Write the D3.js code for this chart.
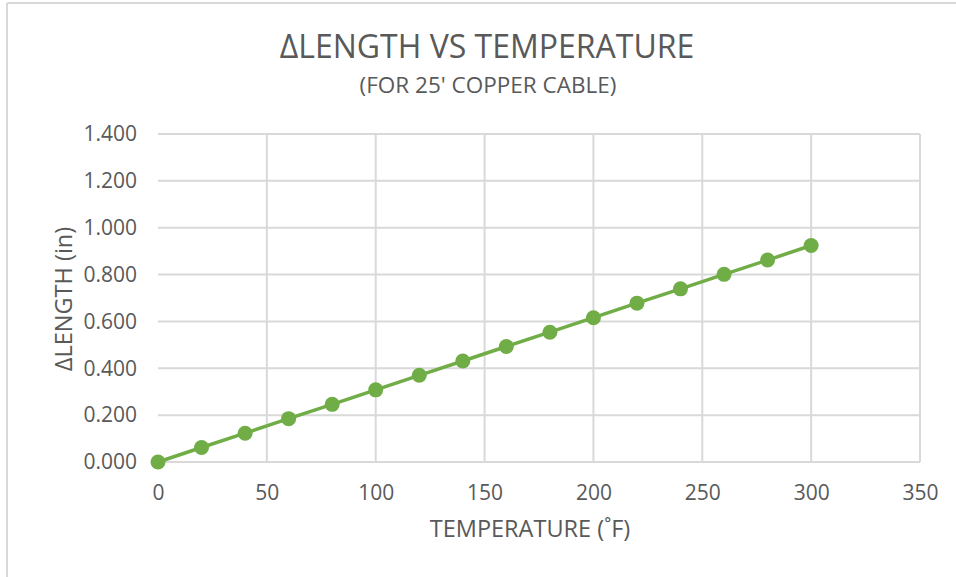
<!DOCTYPE html>
<html lang="en">
<head>
  <meta charset="UTF-8">
  <title>ΔLength vs Temperature</title>
  <script src="https://d3js.org/d3.v7.min.js"></script>
  <style>
    body { margin: 0; background: #fff; }
    text { font-family: "Open Sans", "Liberation Sans", sans-serif; fill: #595959; }
    .grid line { stroke: #d9d9d9; stroke-width: 2; }
    .axis path, .axis line { display: none; }
  </style>
</head>
<body>
<svg width="956" height="577"></svg>

<script>
  // data
  const temps = [0, 20, 40, 60, 80, 100, 120, 140, 160, 180, 200, 220, 240, 260, 280, 300];
  const dLength = [0.000, 0.062, 0.123, 0.185, 0.246, 0.308, 0.370, 0.431, 0.493, 0.554, 0.616, 0.678, 0.739, 0.801, 0.862, 0.924];
  const xTicks = [0, 50, 100, 150, 200, 250, 300, 350];
  const yTicks = [0, 0.2, 0.4, 0.6, 0.8, 1.0, 1.2, 1.4];

  const svg = d3.select("svg");

  // chart frame (left + top edges only visible)
  svg.append("line").attr("x1", 7).attr("y1", 3).attr("x2", 956).attr("y2", 3)
     .attr("stroke", "#d9d9d9").attr("stroke-width", 2);
  svg.append("line").attr("x1", 7).attr("y1", 3).attr("x2", 7).attr("y2", 577)
     .attr("stroke", "#d9d9d9").attr("stroke-width", 2);

  const x = d3.scaleLinear().domain([0, 350]).range([158, 920]);
  const y = d3.scaleLinear().domain([0, 1.4]).range([462, 134]);

  // gridlines
  svg.append("g").attr("class", "grid")
     .selectAll("line.v").data(xTicks.slice(1)).enter().append("line")
     .attr("x1", d => x(d)).attr("x2", d => x(d))
     .attr("y1", y(1.4)).attr("y2", y(0));
  svg.append("g").attr("class", "grid")
     .selectAll("line.h").data(yTicks).enter().append("line")
     .attr("x1", x(0)).attr("x2", x(350))
     .attr("y1", d => y(d)).attr("y2", d => y(d));

  // axes (labels only)
  svg.append("g").attr("class", "axis")
     .attr("transform", `translate(0,${y(0)})`)
     .call(d3.axisBottom(x).tickValues(xTicks).tickSize(0).tickPadding(23))
     .selectAll("text").style("font-size", "21px").attr("fill", "#595959");
  svg.append("g").attr("class", "axis")
     .attr("transform", `translate(${x(0)},0)`)
     .call(d3.axisLeft(y).tickValues(yTicks).tickSize(0).tickPadding(21).tickFormat(d3.format(".3f")))
     .selectAll("text").style("font-size", "21px").attr("fill", "#595959");

  // line + markers
  const pts = temps.map((t, i) => [t, dLength[i]]);
  svg.append("path").datum(pts)
     .attr("fill", "none").attr("stroke", "#70ad47").attr("stroke-width", 3.5)
     .attr("d", d3.line().x(d => x(d[0])).y(d => y(d[1])));
  svg.selectAll("circle.pt").data(pts).enter().append("circle")
     .attr("cx", d => x(d[0])).attr("cy", d => y(d[1])).attr("r", 7.5)
     .attr("fill", "#70ad47");

  // titles
  svg.append("text").attr("x", 487).attr("y", 58).attr("text-anchor", "middle")
     .style("font-size", "32px").text("ΔLENGTH VS TEMPERATURE");
  svg.append("text").attr("x", 488).attr("y", 93).attr("text-anchor", "middle")
     .style("font-size", "22.5px").text("(FOR 25' COPPER CABLE)");
  svg.append("text").attr("x", 530).attr("y", 537).attr("text-anchor", "middle")
     .style("font-size", "23.5px").text("TEMPERATURE (˚F)");
  svg.append("text").attr("transform", "translate(72,299) rotate(-90)")
     .attr("text-anchor", "middle").style("font-size", "23.5px").text("ΔLENGTH (in)");
</script>
</body>
</html>
